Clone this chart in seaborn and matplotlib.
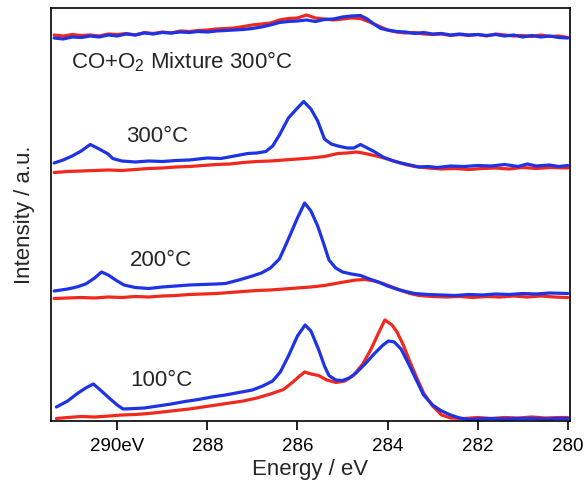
import numpy as np
import pandas as pd
import matplotlib
matplotlib.use("Agg")
import matplotlib.pyplot as plt
import seaborn as sns

# ---------------- data ----------------
offsets = [0, 120, 248, 380]  # 100°C, 200°C, 300°C, mixture
labels = ["100°C", "200°C", "300°C", "CO+O$_2$ Mixture 300°C"]
tick_values = [290, 288, 286, 284, 282, 280]
tick_labels = ["290eV", "288", "286", "284", "282", "280"]

mix_blue_e = [291.4, 291.2, 291.0, 290.8, 290.6, 290.4, 290.2, 290.0, 289.8, 289.6, 289.4, 289.2, 289.0, 288.8, 288.6, 288.4, 288.2, 288.0, 287.8, 287.6, 287.4, 287.2, 287.0, 286.8, 286.6, 286.4, 286.2, 286.0, 285.8, 285.6, 285.4, 285.2, 285.0, 284.8, 284.6, 284.45, 284.3, 284.15, 284.0, 283.8, 283.6, 283.4, 283.2, 283.0, 282.8, 282.6, 282.4, 282.2, 282.0, 281.8, 281.6, 281.4, 281.2, 281.0, 280.8, 280.6, 280.4, 280.2, 280.0]
mix_blue_i = [3, 2, 4, 3.5, 5, 4, 6, 5, 7, 6, 8, 7, 8.5, 8, 9, 8.5, 9.5, 9, 10, 10.5, 11, 11.5, 12.5, 14, 16, 18.5, 19.5, 20, 21, 19.5, 21.5, 22, 24, 25, 25.5, 22, 17, 12.5, 11, 9.5, 9, 7.5, 8.5, 7, 7.5, 6, 7, 6, 6.5, 5.5, 6.5, 5, 6, 4, 5.5, 4, 5, 3.5, 3]
mix_red_e = [291.4, 291.2, 291.0, 290.8, 290.6, 290.4, 290.2, 290.0, 289.8, 289.6, 289.4, 289.2, 289.0, 288.8, 288.6, 288.4, 288.2, 288.0, 287.8, 287.6, 287.4, 287.2, 287.0, 286.8, 286.6, 286.4, 286.2, 286.0, 285.8, 285.6, 285.4, 285.2, 285.0, 284.8, 284.6, 284.4, 284.2, 284.0, 283.8, 283.6, 283.4, 283.2, 283.0, 282.8, 282.6, 282.4, 282.2, 282.0, 281.8, 281.6, 281.4, 281.2, 281.0, 280.8, 280.6, 280.4, 280.2, 280.0]
mix_red_i = [6, 5, 6.5, 5.5, 6, 5, 7, 6.5, 7.5, 6, 8.5, 7.5, 9, 8, 10, 9.5, 10.5, 11, 12, 12.5, 13, 14.5, 16, 17, 18, 21, 22.5, 23, 26, 23, 22, 21, 22, 23, 22.5, 19, 15, 11, 9, 8, 8.5, 7, 6.5, 7, 5.5, 6.5, 5.5, 6.5, 5, 7, 6, 5, 5.5, 4.5, 6, 4.5, 5, 3.5]

t300_blue_e = [291.4, 291.2, 291.0, 290.8, 290.6, 290.4, 290.2, 290.1, 289.9, 289.6, 289.3, 289.0, 288.7, 288.4, 288.2, 288.0, 287.7, 287.4, 287.1, 286.9, 286.7, 286.55, 286.4, 286.2, 286.0, 285.86, 285.7, 285.55, 285.4, 285.25, 285.1, 284.9, 284.75, 284.6, 284.45, 284.3, 284.1, 283.9, 283.7, 283.5, 283.3, 283.1, 282.9, 282.6, 282.3, 282.0, 281.7, 281.4, 281.1, 280.9, 280.7, 280.4, 280.2, 280.0]
t300_blue_i = [10, 13, 17, 22, 28.5, 24, 19, 14.5, 12, 11, 12, 11.5, 12.5, 13, 14, 15, 14.5, 17, 19.5, 20, 21.5, 27, 38, 55, 65, 71.5, 64, 52, 34, 29, 27, 25, 25, 28.5, 25, 21.5, 16, 12.5, 10, 8, 6, 6.5, 5.5, 7, 6.5, 7.5, 7, 8.5, 6.5, 9, 7, 8, 6.5, 7.5]
t300_red_e = [291.4, 291.1, 290.8, 290.5, 290.2, 289.9, 289.6, 289.3, 289.0, 288.7, 288.4, 288.1, 287.8, 287.5, 287.2, 286.9, 286.6, 286.3, 286.0, 285.7, 285.4, 285.1, 284.9, 284.7, 284.55, 284.4, 284.2, 284.0, 283.8, 283.6, 283.4, 283.1, 282.8, 282.5, 282.2, 281.9, 281.6, 281.3, 281.0, 280.7, 280.4, 280.0]
t300_red_i = [0.5, 1.5, 2, 2.5, 3, 2.5, 3.5, 4.5, 5, 6, 6.5, 7.5, 8.5, 9, 10.5, 11.5, 12, 13, 14, 15, 16.5, 19.5, 20, 21, 20, 18.5, 16.5, 14, 11, 8.5, 6.5, 5, 4, 4.5, 3.5, 4.5, 5, 4, 5.5, 4.5, 5.5, 5]

t200_blue_e = [291.4, 291.1, 290.9, 290.7, 290.5, 290.35, 290.2, 290.0, 289.85, 289.6, 289.3, 289.0, 288.7, 288.4, 288.1, 287.8, 287.6, 287.3, 287.0, 286.8, 286.6, 286.4, 286.2, 286.0, 285.84, 285.7, 285.55, 285.4, 285.3, 285.15, 285.0, 284.8, 284.6, 284.4, 284.2, 284.0, 283.8, 283.6, 283.4, 283.1, 282.8, 282.5, 282.2, 281.9, 281.6, 281.3, 281.0, 280.7, 280.4, 280.0]
t200_blue_i = [10, 12, 14, 17, 23, 29, 26, 20, 16, 13.5, 12.5, 14, 15, 16, 16.5, 17, 17.5, 21, 25, 28, 33, 42, 62, 83, 98, 90, 75, 55, 41, 33, 29, 27, 25.5, 22, 19, 15, 12, 9.5, 7.5, 6.5, 6, 5.5, 6.5, 6, 7, 6.5, 7.5, 7, 8, 7.5]
t200_red_e = [291.4, 291.1, 290.8, 290.5, 290.2, 289.9, 289.6, 289.3, 289.0, 288.7, 288.4, 288.1, 287.8, 287.5, 287.2, 286.9, 286.6, 286.3, 286.0, 285.7, 285.4, 285.1, 284.9, 284.7, 284.5, 284.3, 284.1, 283.9, 283.7, 283.5, 283.3, 283.0, 282.7, 282.4, 282.1, 281.8, 281.5, 281.2, 280.9, 280.6, 280.3, 280.0]
t200_red_i = [2.5, 3, 3.5, 3, 4, 3.5, 4.5, 4, 5, 5.5, 6.5, 7, 7.5, 8.5, 9.5, 10.5, 11, 12, 13, 14, 15.5, 18, 19.5, 21, 21.5, 20, 17.5, 14, 10.5, 7.5, 5.5, 4.5, 4, 4.5, 3.5, 4.5, 4, 5, 4, 5, 4, 3.5]

t100_blue_e = [291.35, 291.1, 290.9, 290.7, 290.53, 290.35, 290.18, 290.0, 289.87, 289.6, 289.4, 289.1, 288.8, 288.5, 288.2, 287.9, 287.6, 287.3, 287.0, 286.77, 286.55, 286.38, 286.2, 286.0, 285.83, 285.7, 285.53, 285.4, 285.3, 285.15, 285.0, 284.85, 284.7, 284.5, 284.3, 284.1, 283.98, 283.85, 283.7, 283.52, 283.35, 283.2, 283.0, 282.82, 282.6, 282.4, 282.2, 282.0, 281.7, 281.4, 281.1, 280.8, 280.5, 280.2, 280.0]
t100_blue_i = [14, 20, 27, 33, 37, 30, 23, 16, 12, 12.5, 13, 15, 17, 19.5, 21.5, 24, 26, 28.5, 31, 35, 40, 49, 65, 85, 96, 90, 71.5, 55, 45.5, 41, 40.5, 43, 48, 57, 67, 76, 80, 79, 72, 56, 40, 26, 16, 10.5, 6, 3, 1.5, 2, 2.5, 2, 2.5, 2.5, 2, 2.5, 2.5]
t100_red_e = [291.35, 291.1, 290.8, 290.5, 290.18, 289.9, 289.6, 289.3, 289.0, 288.7, 288.4, 288.1, 287.8, 287.5, 287.2, 286.9, 286.6, 286.31, 286.1, 285.95, 285.84, 285.7, 285.53, 285.35, 285.14, 284.95, 284.76, 284.55, 284.37, 284.2, 284.06, 283.9, 283.79, 283.65, 283.52, 283.35, 283.2, 283.0, 282.8, 282.6, 282.3, 282.0, 281.7, 281.4, 281.1, 280.8, 280.5, 280.2, 280.0]
t100_red_i = [2.5, 3.5, 4.5, 4, 5, 6, 6.5, 7.5, 9, 10.5, 12, 14, 16, 18, 20, 23, 27, 31.5, 39, 45, 49, 47, 45.5, 41, 38.5, 40, 45.5, 57, 71.5, 88, 101, 96, 89, 76, 61, 43, 28, 15, 6, 3, 2.5, 3.5, 2.5, 3.5, 3, 4, 3, 3.5, 3.5]

# ---------------- style ----------------
sns.set_theme(style="white")
plt.rcParams["font.family"] = ["Liberation Sans", "DejaVu Sans"]
plt.rcParams["mathtext.default"] = "regular"

BLUE = "#1e32e6"
RED = "#f0281e"

fig = plt.figure(figsize=(5.87, 4.82), dpi=100)
ax = fig.add_axes([51 / 587, 1 - 421 / 482, (570 - 51) / 587, (421 - 8) / 482])

groups = [
    (t100_red_e, t100_red_i, t100_blue_e, t100_blue_i),
    (t200_red_e, t200_red_i, t200_blue_e, t200_blue_i),
    (t300_red_e, t300_red_i, t300_blue_e, t300_blue_i),
    (mix_red_e, mix_red_i, mix_blue_e, mix_blue_i),
]

for off, (re_, ri, be, bi) in zip(offsets, groups):
    dr = pd.DataFrame({"E": re_, "I": np.array(ri) + off})
    db = pd.DataFrame({"E": be, "I": np.array(bi) + off})
    sns.lineplot(data=dr, x="E", y="I", ax=ax, color=RED, linewidth=2.3,
                 estimator=None, sort=False)
    sns.lineplot(data=db, x="E", y="I", ax=ax, color=BLUE, linewidth=2.3,
                 estimator=None, sort=False)

ax.set_xlim(291.47, 279.95)
ax.set_ylim(0, 413)

# annotations
ax.text(289.72, 41, labels[0], fontsize=16, ha="left", va="center")
ax.text(289.72, 161, labels[1], fontsize=16, ha="left", va="center")
ax.text(289.80, 284.5, labels[2], fontsize=16, ha="left", va="center")
ax.text(291.02, 359, labels[3], fontsize=16, ha="left", va="center")

ax.set_xticks(tick_values)
ax.set_xticklabels(tick_labels, fontsize=13.5)
ax.set_yticks([])
ax.tick_params(axis="x", direction="out", length=6.5, width=1.2, pad=6,
               bottom=True, colors="black")
for s in ax.spines.values():
    s.set_color("black")
    s.set_linewidth(1.2)

ax.set_xlabel("Energy / eV", fontsize=16, va="bottom")
ax.xaxis.set_label_coords(0.5, -0.143)
ax.set_ylabel("Intensity / a.u.", fontsize=16)
ax.yaxis.set_label_coords(-0.031, 0.5)

fig.savefig("out.png", dpi=100)
